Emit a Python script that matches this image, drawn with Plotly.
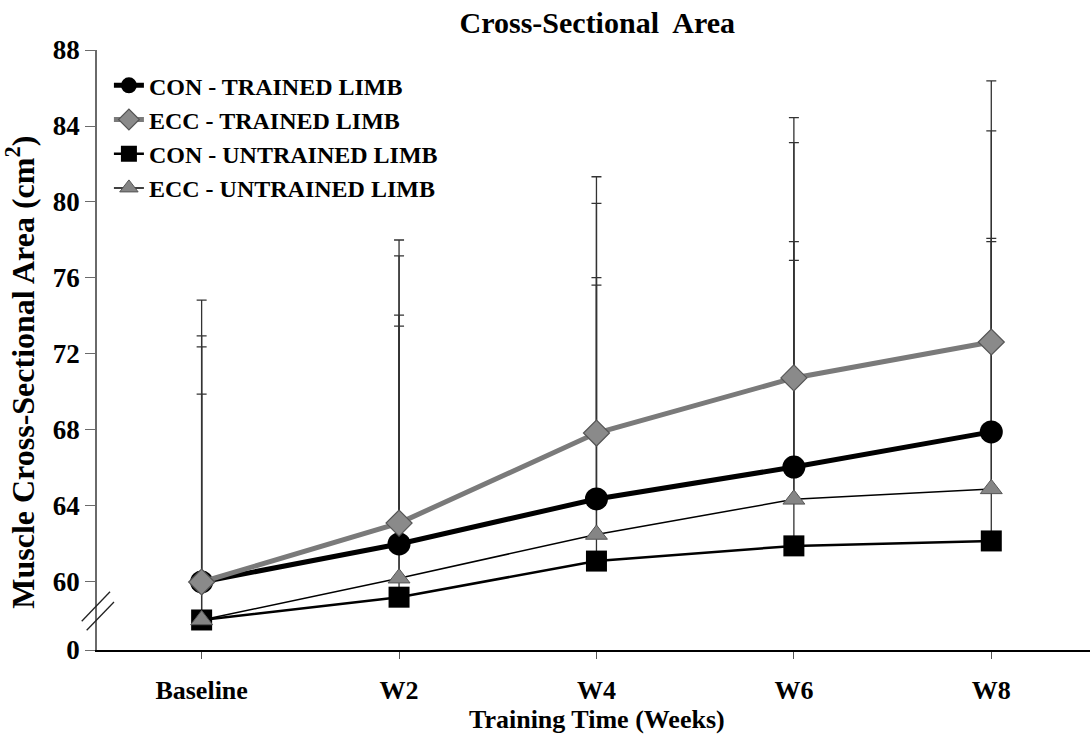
import plotly.graph_objects as go

# Time points and tick labels
weeks = ["Baseline", "W2", "W4", "W6", "W8"]
x_pos = [0, 1, 2, 3, 4]

# Mean muscle cross-sectional area (cm^2) per group
con_trained = [60.0, 62.0, 64.37, 66.05, 67.9]
ecc_trained = [60.0, 63.1, 67.84, 70.74, 72.63]
con_untrained = [58.0, 59.2, 61.1, 61.9, 62.16]
ecc_untrained = [58.0, 60.2, 62.5, 64.35, 64.9]

# Upper standard deviations
con_trained_sd = [12.95, 15.16, 15.56, 17.07, 15.84]
ecc_trained_sd = [14.84, 14.9, 13.49, 13.7, 13.75]
con_untrained_sd = [11.89, 14.27, 14.52, 15.03, 15.75]
ecc_untrained_sd = [14.37, 13.85, 13.52, 13.56, 13.19]

# Y axis: broken axis, bottom labelled 0
y_bottom = 56.42
y_ticks = [y_bottom, 60, 64, 68, 72, 76, 80, 84, 88]
y_ticktext = ["0", "60", "64", "68", "72", "76", "80", "84", "88"]

FONT = "Liberation Serif"

fig = go.Figure()

# Error bars first so that markers sit on top of them
for means, sds in [(con_untrained, con_untrained_sd), (ecc_untrained, ecc_untrained_sd),
                   (con_trained, con_trained_sd), (ecc_trained, ecc_trained_sd)]:
    fig.add_trace(go.Scatter(
        x=x_pos, y=means, mode="markers",
        marker=dict(size=1, color="rgba(0,0,0,0)"),
        error_y=dict(type="data", symmetric=False, array=sds,
                     arrayminus=[0] * len(sds), color="#333333",
                     thickness=1.3, width=5),
        showlegend=False, hoverinfo="skip"))

fig.add_trace(go.Scatter(
    x=x_pos, y=con_untrained, mode="lines+markers", name="<b>CON - UNTRAINED LIMB</b>",
    line=dict(color="black", width=2.5),
    marker=dict(symbol="square", size=21, color="black"),
    legendgroup="c", legendrank=3))
fig.add_trace(go.Scatter(
    x=x_pos, y=ecc_untrained, mode="lines+markers", name="<b>ECC - UNTRAINED LIMB</b>",
    line=dict(color="black", width=1.5),
    marker=dict(symbol="triangle-up", size=19, color="#858585",
                line=dict(color="#555555", width=1)),
    legendgroup="d", legendrank=4))
fig.add_trace(go.Scatter(
    x=x_pos, y=con_trained, mode="lines+markers", name="<b>CON - TRAINED LIMB</b>",
    line=dict(color="black", width=5),
    marker=dict(symbol="circle", size=23, color="black"),
    legendgroup="a", legendrank=1))
fig.add_trace(go.Scatter(
    x=x_pos, y=ecc_trained, mode="lines+markers", name="<b>ECC - TRAINED LIMB</b>",
    line=dict(color="#7a7a7a", width=5),
    marker=dict(symbol="diamond", size=20, color="#8a8a8a",
                line=dict(color="#555555", width=1.2)),
    legendgroup="b", legendrank=2))

# Axis break marks
for (xa, ya, xb, yb) in [(-0.0154, 0.048, 0.0131, 0.097), (-0.0104, 0.033, 0.0171, 0.080)]:
    fig.add_shape(type="line", xref="paper", yref="paper",
                  x0=xa, y0=ya, x1=xb, y1=yb,
                  line=dict(color="#222222", width=1.3))

fig.add_annotation(
    text="<b>Muscle Cross-Sectional Area (cm<sup>2</sup>)</b>",
    xref="paper", yref="paper", x=-0.077, y=0.463, xanchor="center", yanchor="middle",
    textangle=-90, showarrow=False, font=dict(family=FONT, size=32, color="black"))
fig.add_annotation(
    text="<b>Training Time (Weeks)</b>",
    xref="paper", yref="paper", x=0.504, y=-0.115, xanchor="center", yanchor="middle",
    showarrow=False, font=dict(family=FONT, size=26, color="black"))

fig.update_layout(
    width=1090, height=734,
    margin=dict(l=97, r=0, t=50, b=84),
    paper_bgcolor="white", plot_bgcolor="white",
    font=dict(family=FONT, color="black"),
    title=dict(text="<b>Cross-Sectional  Area</b>", x=0.548, xanchor="center",
               y=0.97, yanchor="middle", yref="container",
               font=dict(family=FONT, size=30, color="black")),
    legend=dict(x=0.012, y=0.978, xanchor="left", yanchor="top",
                bgcolor="rgba(0,0,0,0)", traceorder="grouped",
                font=dict(family=FONT, size=24, color="black"),
                itemwidth=30, tracegroupgap=0),
    showlegend=True,
)

fig.update_xaxes(
    range=[-0.53, 4.5], tickvals=x_pos, ticktext=[f"<b>{w}</b>" for w in weeks],
    showline=True, linecolor="black", linewidth=2,
    ticks="outside", ticklen=7, tickcolor="#555555", tickwidth=1,
    ticklabelstandoff=9,
    tickfont=dict(family=FONT, size=26, color="black"),
    showgrid=False, zeroline=False)
fig.update_yaxes(
    range=[y_bottom, 88], tickvals=y_ticks, ticktext=[f"<b>{t}</b>" for t in y_ticktext],
    showline=True, linecolor="#6a6a6a", linewidth=1.5,
    ticks="outside", ticklen=10, tickcolor="#6a6a6a", tickwidth=1.2,
    tickfont=dict(family=FONT, size=27, color="black"),
    showgrid=False, zeroline=False)

fig.write_html("out.html")
